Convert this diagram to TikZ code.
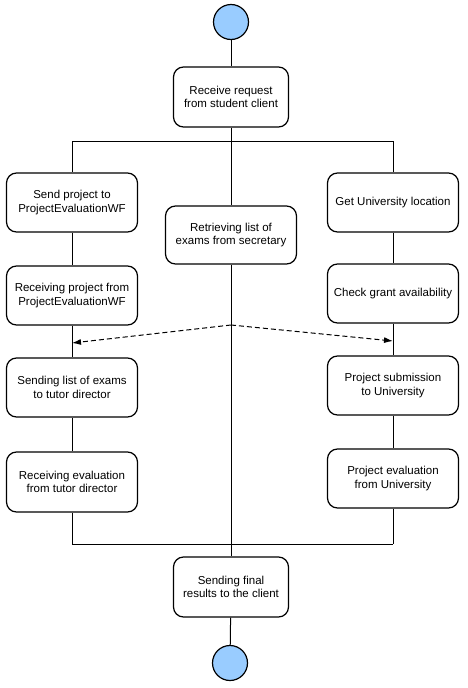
\documentclass[tikz,border=0pt]{standalone}
\usepackage{fontspec}
\setmainfont{Liberation Sans}
\usetikzlibrary{arrows.meta}

\definecolor{nodeblue}{RGB}{153,204,255}

\tikzset{
  activity/.style={draw, line width=1.2pt, rounded corners=10pt, fill=white,
    minimum width=131pt, minimum height=59pt, align=center, inner sep=2pt,
    font=\fontsize{11.5}{13.5}\selectfont},
  endpoint/.style={draw, line width=1.2pt, circle, fill=nodeblue, minimum size=35pt, inner sep=0pt},
  flow/.style={line width=1pt},
  message/.style={line width=1pt, dash pattern=on 5pt off 3pt, -{Latex[length=9pt, width=6pt]}}
}

\begin{document}
\begin{tikzpicture}[x=1pt, y=-1pt]
    % Fix the page size
    \useasboundingbox[fill=white] (0,0) rectangle (467,688);

    % Start and end points
    \node[endpoint] (start) at (231,22) {};
    \node[endpoint] (stop) at (230,663) {};

    % Activities
    \node[activity, minimum width=115pt, minimum height=60pt] (request) at (231,97) {Receive request\\from student client};
    \node[activity] (sendproj) at (72,202.5) {Send project to\\ProjectEvaluationWF};
    \node[activity] (recvproj) at (72,295.5) {Receiving project from\\ProjectEvaluationWF};
    \node[activity] (sendexams) at (72,387.5) {Sending list of exams\\to tutor director};
    \node[activity, minimum height=60pt] (recveval) at (72,482) {Receiving evaluation\\from tutor director};
    \node[activity, minimum height=58pt] (retrieve) at (231,235) {Retrieving list of\\exams from secretary};
    \node[activity] (location) at (393,202.5) {Get University location};
    \node[activity] (grant) at (393,293.5) {Check grant availability};
    \node[activity] (submit) at (393,385.5) {Project submission\\to University};
    \node[activity] (univeval) at (393,478.5) {Project evaluation\\from University};
    \node[activity, minimum width=115pt, minimum height=60pt] (final) at (231,587) {Sending final\\results to the client};

    % Fork and join bars
    \coordinate (forkL) at (72,141);
    \coordinate (forkR) at (393,141);
    \coordinate (joinL) at (72,544);
    \coordinate (joinR) at (393,544);

    % Control flow
    \draw[flow] (start) -- (request);
    \draw[flow] (request) -- (request |- forkL);
    \draw[flow] (forkL) -- (forkR);
    \draw[flow] (forkL) -- (sendproj);
    \draw[flow] (request |- forkL) -- (retrieve);
    \draw[flow] (forkR) -- (location);
    \draw[flow] (sendproj) -- (recvproj);
    \draw[flow] (recvproj) -- (sendexams);
    \draw[flow] (sendexams) -- (recveval);
    \draw[flow] (recveval) -- (joinL);
    \draw[flow] (location) -- (grant);
    \draw[flow] (grant) -- (submit);
    \draw[flow] (submit) -- (univeval);
    \draw[flow] (univeval) -- (joinR);
    \draw[flow] (joinL) -- (joinR);
    \draw[flow] (retrieve) -- (final);
    \draw[flow] (final) -- (stop);

    % Dashed messages
    \coordinate (split) at (231,325);
    \coordinate (mergeL) at (72,343);
    \coordinate (mergeR) at (393,341);
    \draw[message] (split) -- (mergeL);
    \draw[message] (split) -- (mergeR);

\end{tikzpicture}
\end{document}
